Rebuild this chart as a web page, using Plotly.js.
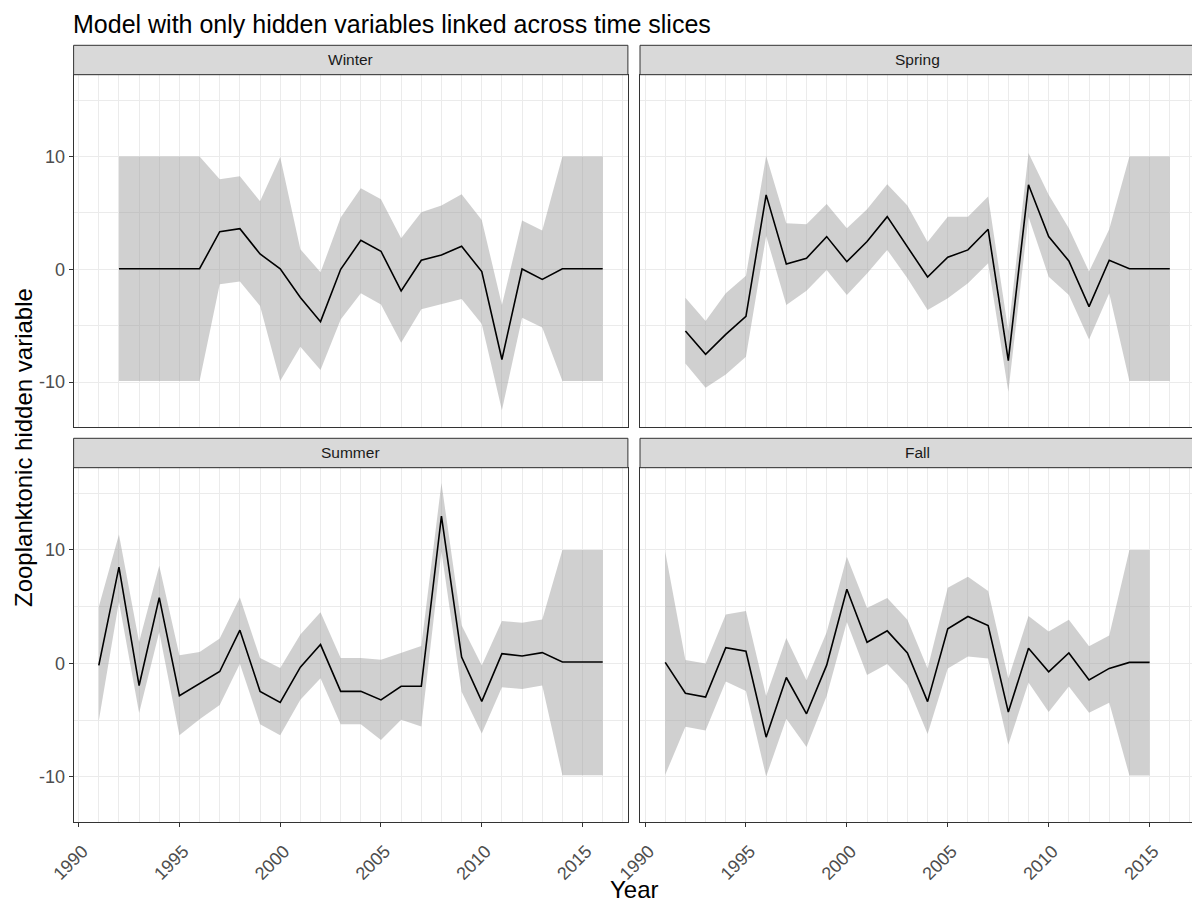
<!DOCTYPE html>
<html>
<head>
<meta charset="utf-8">
<script src="https://cdn.plot.ly/plotly-3.0.1.min.js"></script>
<style>
html,body{margin:0;padding:0;overflow:hidden;background:#fff;}
#chart{width:1196px;height:903px;}
</style>
</head>
<body>
<div id="chart"></div>
<script>
// ---------------- DATA ----------------
const seasons = ["Winter", "Spring", "Summer", "Fall"];

const winterYears = [1992,1993,1994,1995,1996,1997,1998,1999,2000,2001,2002,2003,2004,2005,2006,2007,2008,2009,2010,2011,2012,2013,2014,2015,2016];
const winterMean  = [0.05,0.05,0.05,0.05,0.05,3.34,3.6,1.36,0.05,-2.49,-4.64,0,2.57,1.6,-1.92,0.8,1.27,2.04,-0.2,-7.99,0.03,-0.89,0.05,0.05,0.05];
const winterUpper = [10,10,10,10,10,7.99,8.25,6.04,9.95,1.78,-0.27,4.59,7.19,6.21,2.75,5.06,5.65,6.66,4.38,-3.17,4.32,3.43,10,10,10];
const winterLower = [-9.9,-9.9,-9.9,-9.9,-9.9,-1.33,-1.07,-3.25,-9.9,-6.86,-8.93,-4.44,-2.13,-3.11,-6.51,-3.55,-3.08,-2.63,-4.85,-12.49,-4.29,-5.15,-9.9,-9.9,-9.9];

const springYears = [1992,1993,1994,1995,1996,1997,1998,1999,2000,2001,2002,2003,2004,2005,2006,2007,2008,2009,2010,2011,2012,2013,2014,2015,2016];
const springMean  = [-5.47,-7.54,-5.77,-4.17,6.6,0.47,0.98,2.9,0.68,2.46,4.67,2.01,-0.68,1.07,1.72,3.55,-8.1,7.49,2.9,0.74,-3.31,0.8,0.05,0.05,0.05];
const springUpper = [-2.51,-4.59,-2.13,-0.56,10.06,4.08,3.99,5.8,3.64,5.33,7.54,5.65,2.43,4.67,4.67,6.45,-5.5,10.3,6.6,3.64,-0.2,3.55,10,10,10];
const springLower = [-8.34,-10.5,-9.32,-7.75,2.96,-3.17,-1.89,-0.06,-2.28,-0.36,1.72,-0.8,-3.61,-2.57,-1.24,0.53,-10.86,4.67,-0.65,-2.28,-6.21,-2.13,-9.9,-9.9,-9.9];

const summerYears = [1991,1992,1993,1994,1995,1996,1997,1998,1999,2000,2001,2002,2003,2004,2005,2006,2007,2008,2009,2010,2011,2012,2013,2014,2015,2016];
const summerMean  = [-0.18,8.49,-1.95,5.8,-2.84,-1.8,-0.71,2.93,-2.46,-3.43,-0.33,1.66,-2.46,-2.46,-3.22,-2.01,-2.01,12.99,0.56,-3.34,0.86,0.65,0.95,0.12,0.12,0.12];
const summerUpper = [5.0,11.36,1.89,8.61,0.71,1.0,2.19,5.8,0.47,-0.41,2.54,4.5,0.47,0.47,0.33,0.95,1.54,15.9,3.37,-0.18,3.73,3.58,3.88,10,10,10];
const summerLower = [-5.06,5.44,-4.38,2.78,-6.33,-4.91,-3.67,-0.03,-5.36,-6.33,-3.2,-1.3,-5.36,-5.36,-6.75,-4.97,-5.56,9.88,-2.49,-6.18,-2.1,-2.25,-1.95,-9.85,-9.85,-9.85];

const fallYears = [1991,1992,1993,1994,1995,1996,1997,1998,1999,2000,2001,2002,2003,2004,2005,2006,2007,2008,2009,2010,2011,2012,2013,2014,2015];
const fallMean  = [0.09,-2.63,-2.96,1.39,1.07,-6.5,-1.24,-4.44,-0.15,6.54,1.86,2.87,0.92,-3.37,3.05,4.14,3.34,-4.29,1.33,-0.74,0.92,-1.45,-0.44,0.09,0.09];
const fallUpper = [9.85,0.3,0,4.32,4.62,-2.87,2.25,-1.48,2.75,9.41,4.88,5.77,3.85,-0.44,6.66,7.63,6.39,-1.33,4.17,2.81,3.85,1.51,2.46,10,10];
const fallLower = [-9.82,-5.59,-5.92,-1.6,-2.43,-9.97,-4.88,-7.37,-2.87,3.64,-1.01,-0.06,-1.92,-6.21,-0.44,0.62,0.44,-7.16,-1.69,-4.29,-2.04,-4.35,-3.46,-9.88,-9.88];

const xTickVals = [1990,1995,2000,2005,2010,2015];
const xTickText = ["1990","1995","2000","2005","2010","2015"];
const yTickVals = [-10,0,10];
const yTickText = ["-10","0","10"];

const titleText = "Model with only hidden variables linked across time slices";
const xTitleText = "Year";
const yTitleText = "Zooplanktonic hidden variable";

// ---------------- LAYOUT GEOMETRY (pixels) ----------------
const W = 1196, H = 903;
const colL = [73.6, 627.9], colR = [640, 1195];
const rowT = [74.7, 426.7], rowB = [467.7, 821.7];
const stripH = 29.4;
const xRange = [1989.75, 2017.25];
const yRange = [-13.95, 17.25];
const px = v => v / W;
const py = v => 1 - v / H;

const panels = [
  {name: seasons[0], years: winterYears, mean: winterMean, up: winterUpper, lo: winterLower, col: colL, row: rowT, n: 1, bottom: false, left: true},
  {name: seasons[1], years: springYears, mean: springMean, up: springUpper, lo: springLower, col: colR, row: rowT, n: 2, bottom: false, left: false},
  {name: seasons[2], years: summerYears, mean: summerMean, up: summerUpper, lo: summerLower, col: colL, row: rowB, n: 3, bottom: true,  left: true},
  {name: seasons[3], years: fallYears,   mean: fallMean,   up: fallUpper,   lo: fallLower,   col: colR, row: rowB, n: 4, bottom: true,  left: false}
];

const font = "Liberation Sans, Arial, Helvetica, sans-serif";
const tickFont = {family: font, size: 18, color: "#4d4d4d"};
const traces = [];
const shapes = [];
const annotations = [];
const layout = {
  width: W, height: H,
  margin: {l: 0, r: 0, t: 0, b: 0, pad: 0},
  paper_bgcolor: "#ffffff",
  plot_bgcolor: "#ffffff",
  showlegend: false,
  font: {family: font, color: "#000000"},
  title: {
    text: titleText,
    font: {family: font, size: 25, color: "#000000"},
    x: px(73), xref: "container", xanchor: "left",
    y: 1 - 24 / H, yref: "container", yanchor: "middle"
  }
};

const axName = (k) => (k === 1 ? "" : String(k));
let extra = 5;

panels.forEach((p) => {
  const xa = "x" + axName(p.n), ya = "y" + axName(p.n);
  const rx = p.years.slice().reverse();
  const rlo = p.lo.slice().reverse();
  traces.push({
    type: "scatter", mode: "lines",
    x: p.years.concat(rx), y: p.up.concat(rlo),
    xaxis: xa, yaxis: ya,
    fill: "toself", fillcolor: "rgba(150,150,150,0.45)",
    line: {width: 0}, hoverinfo: "skip"
  });
  traces.push({
    type: "scatter", mode: "lines",
    x: p.years, y: p.mean,
    xaxis: xa, yaxis: ya,
    line: {color: "#000000", width: 1.6}
  });

  layout["xaxis" + axName(p.n)] = {
    domain: [px(p.col[0]), px(p.col[1])],
    anchor: ya, range: xRange,
    tickmode: "linear", tick0: 1990, dtick: 1,
    showticklabels: false, ticks: "",
    showgrid: true, gridcolor: "#ebebeb", gridwidth: 1,
    zeroline: false,
    showline: true, mirror: true, linecolor: "#333333", linewidth: 1
  };
  layout["yaxis" + axName(p.n)] = {
    domain: [py(p.row[1]), py(p.row[0])],
    anchor: xa, range: yRange,
    tickmode: "linear", tick0: 0, dtick: 5,
    showticklabels: false, ticks: "",
    showgrid: true, gridcolor: "#ebebeb", gridwidth: 1,
    zeroline: false,
    showline: true, mirror: true, linecolor: "#333333", linewidth: 1
  };

  if (p.bottom) {
    const k = extra++;
    layout["xaxis" + k] = {
      overlaying: xa, anchor: ya, range: xRange,
      tickmode: "array", tickvals: xTickVals, ticktext: xTickText,
      ticks: "outside", ticklen: 4, tickwidth: 1, tickcolor: "#333333",
      tickangle: -45, tickfont: tickFont,
      ticklabelstandoff: 7, ticklabelshift: 4,
      showgrid: false, zeroline: false, showline: false
    };
    traces.push({type: "scatter", mode: "lines", x: [], y: [], xaxis: "x" + k, yaxis: ya, hoverinfo: "skip"});
  }
  if (p.left) {
    const k = extra++;
    layout["yaxis" + k] = {
      overlaying: ya, anchor: xa, range: yRange,
      tickmode: "array", tickvals: yTickVals, ticktext: yTickText,
      ticks: "outside", ticklen: 4, tickwidth: 1, tickcolor: "#333333",
      tickfont: tickFont,
      showgrid: false, zeroline: false, showline: false
    };
    traces.push({type: "scatter", mode: "lines", x: [], y: [], xaxis: xa, yaxis: "y" + k, hoverinfo: "skip"});
  }

  shapes.push({
    type: "rect", xref: "paper", yref: "paper",
    x0: px(p.col[0]), x1: px(p.col[1]),
    y0: py(p.row[0]), y1: py(p.row[0] - stripH),
    fillcolor: "#d9d9d9", line: {color: "#333333", width: 1}, layer: "above"
  });
  annotations.push({
    xref: "paper", yref: "paper",
    x: px((p.col[0] + p.col[1]) / 2), y: py(p.row[0] - stripH / 2),
    xanchor: "center", yanchor: "middle", showarrow: false,
    text: p.name, font: {family: font, size: 15.5, color: "#1a1a1a"}
  });
});

annotations.push({
  xref: "paper", yref: "paper",
  x: px(634), y: py(889), xanchor: "center", yanchor: "middle", showarrow: false,
  text: xTitleText, font: {family: font, size: 24, color: "#000000"}
});
annotations.push({
  xref: "paper", yref: "paper",
  x: px(23), y: py(448), xanchor: "center", yanchor: "middle", showarrow: false,
  textangle: -90,
  text: yTitleText, font: {family: font, size: 24, color: "#000000"}
});

layout.shapes = shapes;
layout.annotations = annotations;

Plotly.newPlot("chart", traces, layout, {displayModeBar: false, staticPlot: true});
</script>
</body>
</html>
